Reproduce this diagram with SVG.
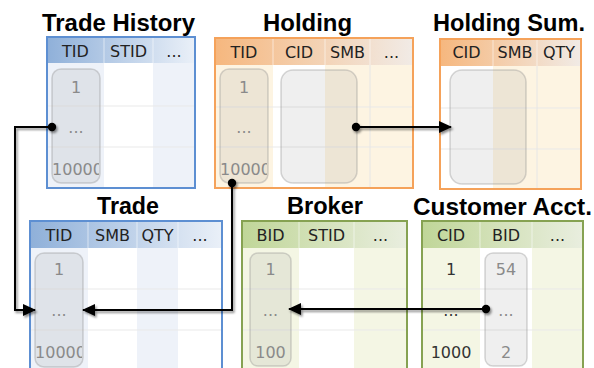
<svg xmlns="http://www.w3.org/2000/svg" width="594" height="368" viewBox="0 0 594 368">
  <style>
    .title { font-family: "Liberation Sans", Arial, sans-serif; font-weight: bold; font-size: 23px; fill: #000; text-anchor: middle; }
    .hd { font-family: "DejaVu Sans", Verdana, sans-serif; font-size: 16px; fill: #222; text-anchor: middle; }
    .val { font-family: "DejaVu Sans", Verdana, sans-serif; font-size: 16px; fill: #8a8a8a; text-anchor: middle; }
    .dark { fill: #333; }
    .pill { fill: rgba(110,110,110,0.11); stroke: rgba(140,140,140,0.35); stroke-width: 1.5; }
    .row { stroke: #e9e9e9; stroke-width: 1; }
    .sep { stroke: #ffffff; stroke-opacity: 0.55; stroke-width: 1; }
    .colsep { stroke: #e6e6e6; stroke-width: 1; }
    .bBlue { fill: none; stroke: #5d8fd2; stroke-width: 2; }
    .bOrange { fill: none; stroke: #f5a25a; stroke-width: 2; }
    .bGreen { fill: none; stroke: #86a252; stroke-width: 2; }
    .tBlue { fill: #eef2f9; }
    .tOrange { fill: #fdf4e2; }
    .tGreen { fill: #f4f6e4; }
    .wire { fill: none; stroke: #000; stroke-width: 2; }
  </style>
  <defs>
    <linearGradient id="gBlue" x1="0" y1="0" x2="1" y2="0">
      <stop offset="0" stop-color="#8fb0d9"/>
      <stop offset="1" stop-color="#eaf0f8"/>
    </linearGradient>
    <linearGradient id="gOrange" x1="0" y1="0" x2="1" y2="0">
      <stop offset="0" stop-color="#f6b77e"/>
      <stop offset="1" stop-color="#f1ebe6"/>
    </linearGradient>
    <linearGradient id="gGreen" x1="0" y1="0" x2="1" y2="0">
      <stop offset="0" stop-color="#c0d698"/>
      <stop offset="1" stop-color="#e9eedf"/>
    </linearGradient>
    <marker id="arrow" viewBox="0 0 13 12" refX="12" refY="6" markerWidth="13" markerHeight="12" markerUnits="userSpaceOnUse" orient="auto">
      <path d="M0,0 L13,6 L0,12 Z" fill="#000"/>
    </marker>
    <filter id="shadow" filterUnits="userSpaceOnUse" x="0" y="0" width="594" height="368">
      <feDropShadow dx="1.5" dy="2" stdDeviation="0.9" flood-color="#000" flood-opacity="0.45"/>
    </filter>
    <clipPath id="clipA"><rect x="52" y="69" width="47" height="114" rx="9"/></clipPath>
    <clipPath id="clipB"><rect x="220" y="69" width="47" height="114" rx="9"/></clipPath>
    <clipPath id="clipD"><rect x="35" y="253" width="47" height="114" rx="9"/></clipPath>
  </defs>

  <rect width="594" height="368" fill="#fff"/>

  <!-- Trade History -->
  <g id="trade-history">
    <text class="title" x="118.5" y="31" textLength="153" lengthAdjust="spacingAndGlyphs">Trade History</text>
    <rect x="47" y="63" width="148" height="125" fill="#fff"/>
    <rect class="tBlue" x="47" y="63" width="57" height="125"/>
    <rect class="tBlue" x="153" y="63" width="42" height="125"/>
    <line class="row" x1="47" y1="106" x2="195" y2="106"/>
    <line class="row" x1="47" y1="147" x2="195" y2="147"/>
    <rect x="47" y="37" width="148" height="26" fill="url(#gBlue)"/>
    <line class="sep" x1="104" y1="37" x2="104" y2="63"/>
    <line class="sep" x1="153" y1="37" x2="153" y2="63"/>
    <text class="hd" x="75.5" y="56.5">TID</text>
    <text class="hd" x="128.5" y="56.5">STID</text>
    <text class="hd" x="174" y="56.5">...</text>
    <rect class="pill" x="52" y="69" width="48" height="114" rx="9"/>
    <text class="val" x="76" y="93">1</text>
    <text class="val" x="76" y="133">...</text>
    <text class="val" x="77.5" y="175" clip-path="url(#clipA)">10000</text>
    <rect class="bBlue" x="47" y="37" width="148" height="151"/>
  </g>

  <!-- Holding -->
  <g id="holding">
    <text class="title" x="307.5" y="30.5" textLength="89" lengthAdjust="spacingAndGlyphs">Holding</text>
    <rect x="215" y="65" width="198" height="123" fill="#fff"/>
    <rect class="tOrange" x="215" y="65" width="58" height="123"/>
    <rect class="tOrange" x="325" y="65" width="88" height="123"/>
    <line class="row" x1="215" y1="107" x2="413" y2="107"/>
    <line class="row" x1="215" y1="147" x2="413" y2="147"/>
    <line class="colsep" x1="370" y1="65" x2="370" y2="188"/>
    <rect x="215" y="38" width="198" height="27" fill="url(#gOrange)"/>
    <line class="sep" x1="273" y1="38" x2="273" y2="65"/>
    <line class="sep" x1="325" y1="38" x2="325" y2="65"/>
    <line class="sep" x1="370" y1="38" x2="370" y2="65"/>
    <text class="hd" x="244" y="57.5">TID</text>
    <text class="hd" x="299" y="57.5">CID</text>
    <text class="hd" x="347.5" y="57.5">SMB</text>
    <text class="hd" x="391.5" y="57.5">...</text>
    <rect class="pill" x="220" y="69" width="48" height="114" rx="9"/>
    <text class="val" x="244" y="93">1</text>
    <text class="val" x="244" y="133">...</text>
    <text class="val" x="245.5" y="175" clip-path="url(#clipB)">10000</text>
    <rect class="pill" x="281" y="70" width="76" height="113" rx="12"/>
    <rect class="bOrange" x="215" y="38" width="198" height="150"/>
  </g>

  <!-- Holding Sum. -->
  <g id="holding-sum">
    <text class="title" x="509" y="31" textLength="152" lengthAdjust="spacingAndGlyphs">Holding Sum.</text>
    <rect x="440" y="66" width="141" height="123" fill="#fff"/>
    <rect class="tOrange" x="493" y="66" width="88" height="123"/>
    <line class="row" x1="440" y1="108" x2="581" y2="108"/>
    <line class="row" x1="440" y1="149" x2="581" y2="149"/>
    <line class="colsep" x1="537" y1="66" x2="537" y2="189"/>
    <rect x="440" y="39" width="141" height="27" fill="url(#gOrange)"/>
    <line class="sep" x1="493" y1="39" x2="493" y2="66"/>
    <line class="sep" x1="537" y1="39" x2="537" y2="66"/>
    <text class="hd" x="466.5" y="58">CID</text>
    <text class="hd" x="515" y="58">SMB</text>
    <text class="hd" x="559" y="58">QTY</text>
    <rect class="pill" x="450" y="70" width="76" height="114" rx="12"/>
    <rect class="bOrange" x="440" y="39" width="141" height="150"/>
  </g>

  <!-- Trade -->
  <g id="trade">
    <text class="title" x="128" y="214" textLength="62" lengthAdjust="spacingAndGlyphs">Trade</text>
    <rect x="30" y="248" width="192" height="124" fill="#fff"/>
    <rect class="tBlue" x="30" y="248" width="58" height="124"/>
    <rect class="tBlue" x="137" y="248" width="41" height="124"/>
    <line class="row" x1="30" y1="289" x2="222" y2="289"/>
    <line class="row" x1="30" y1="330" x2="222" y2="330"/>
    <rect x="30" y="221" width="192" height="27" fill="url(#gBlue)"/>
    <line class="sep" x1="88" y1="221" x2="88" y2="248"/>
    <line class="sep" x1="137" y1="221" x2="137" y2="248"/>
    <line class="sep" x1="178" y1="221" x2="178" y2="248"/>
    <text class="hd" x="59" y="240.5">TID</text>
    <text class="hd" x="112.5" y="240.5">SMB</text>
    <text class="hd" x="157.5" y="240.5">QTY</text>
    <text class="hd" x="200" y="240.5">...</text>
    <rect class="pill" x="35" y="253" width="48" height="114" rx="9"/>
    <text class="val" x="59" y="275">1</text>
    <text class="val" x="59" y="316">...</text>
    <text class="val" x="60.5" y="358" clip-path="url(#clipD)">10000</text>
    <rect class="bBlue" x="30" y="221" width="192" height="152"/>
  </g>

  <!-- Broker -->
  <g id="broker">
    <text class="title" x="325" y="214" textLength="76" lengthAdjust="spacingAndGlyphs">Broker</text>
    <rect x="242" y="248" width="165" height="124" fill="#fff"/>
    <rect class="tGreen" x="242" y="248" width="57" height="124"/>
    <rect class="tGreen" x="354" y="248" width="53" height="124"/>
    <line class="row" x1="242" y1="289" x2="407" y2="289"/>
    <line class="row" x1="242" y1="330" x2="407" y2="330"/>
    <rect x="242" y="221" width="165" height="27" fill="url(#gGreen)"/>
    <line class="sep" x1="299" y1="221" x2="299" y2="248"/>
    <line class="sep" x1="354" y1="221" x2="354" y2="248"/>
    <text class="hd" x="270.5" y="240.5">BID</text>
    <text class="hd" x="326.5" y="240.5">STID</text>
    <text class="hd" x="380.5" y="240.5">...</text>
    <rect class="pill" x="250" y="253" width="41" height="113" rx="8"/>
    <text class="val" x="270.5" y="275">1</text>
    <text class="val" x="270.5" y="316">...</text>
    <text class="val" x="270.5" y="358">100</text>
    <rect class="bGreen" x="242" y="221" width="165" height="152"/>
  </g>

  <!-- Customer Acct. -->
  <g id="customer-acct">
    <text class="title" x="502.5" y="214.5" textLength="179" lengthAdjust="spacingAndGlyphs">Customer Acct.</text>
    <rect x="422" y="248" width="161" height="124" fill="#fff"/>
    <rect class="tGreen" x="422" y="248" width="58" height="124"/>
    <rect class="tGreen" x="532" y="248" width="51" height="124"/>
    <line class="row" x1="422" y1="289" x2="583" y2="289"/>
    <line class="row" x1="422" y1="330" x2="583" y2="330"/>
    <rect x="422" y="221" width="161" height="27" fill="url(#gGreen)"/>
    <line class="sep" x1="480" y1="221" x2="480" y2="248"/>
    <line class="sep" x1="532" y1="221" x2="532" y2="248"/>
    <text class="hd" x="451" y="240.5">CID</text>
    <text class="hd" x="506" y="240.5">BID</text>
    <text class="hd" x="557.5" y="240.5">...</text>
    <text class="val dark" x="451" y="275">1</text>
    <text class="val dark" x="451" y="316">...</text>
    <text class="val dark" x="451" y="358">1000</text>
    <rect class="pill" x="485" y="253" width="42" height="113" rx="8"/>
    <text class="val" x="506" y="275">54</text>
    <text class="val" x="506" y="316">...</text>
    <text class="val" x="506" y="358">2</text>
    <rect class="bGreen" x="422" y="221" width="161" height="152"/>
  </g>

  <!-- Connectors -->
  <g id="connectors" filter="url(#shadow)">
    <path class="wire" d="M52,127 H15 V310 H35" marker-end="url(#arrow)"/>
    <path class="wire" d="M232,183 V310 H83" marker-end="url(#arrow)"/>
    <path class="wire" d="M356,127 H451" marker-end="url(#arrow)"/>
    <path class="wire" d="M486,309 H289" marker-end="url(#arrow)"/>
    <circle cx="52" cy="127" r="4.2" fill="#000"/>
    <circle cx="232" cy="183" r="4.2" fill="#000"/>
    <circle cx="356" cy="127" r="4.2" fill="#000"/>
    <circle cx="486" cy="309" r="4.2" fill="#000"/>
  </g>
</svg>
